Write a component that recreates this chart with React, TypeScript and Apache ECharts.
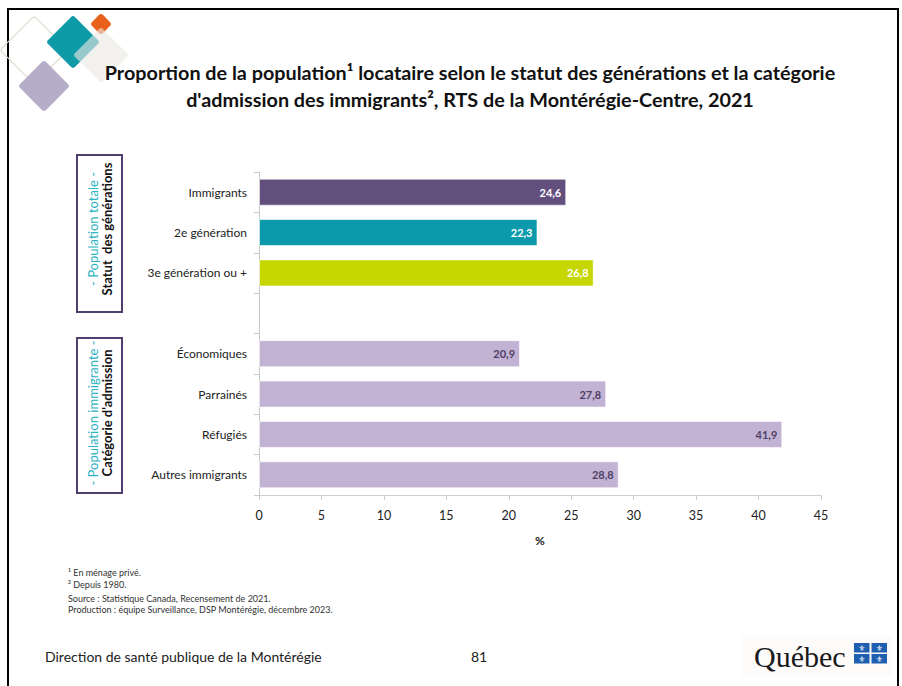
import React, { useEffect, useRef } from "react";
import * as echarts from "echarts";

const categories = [
  "Immigrants",
  "2e génération",
  "3e génération ou +",
  "",
  "Économiques",
  "Parrainés",
  "Réfugiés",
  "Autres immigrants",
];
const values: (number | null)[] = [24.6, 22.3, 26.8, null, 20.9, 27.8, 41.9, 28.8];
const barColors = ["#634f7d", "#0a9aac", "#c5d600", "#ffffff", "#c2b3d4", "#c2b3d4", "#c2b3d4", "#c2b3d4"];
const labelColors = ["#ffffff", "#ffffff", "#ffffff", "#ffffff", "#4e3f66", "#4e3f66", "#4e3f66", "#4e3f66"];
const xTicks = { min: 0, max: 45, interval: 5 };

const titleLines = [
  "Proportion de la population¹ locataire selon le statut des générations et la catégorie",
  "d'admission des immigrants², RTS de la Montérégie-Centre, 2021",
];
const footnotes = [
  "¹ En ménage privé.",
  "² Depuis 1980.",
  "Source : Statistique Canada, Recensement de 2021.",
  "Production : équipe Surveillance, DSP Montérégie, décembre 2023.",
];
const groupBoxes = [
  { teal: "- Population totale -", black: "Statut  des générations" },
  { teal: "- Population immigrante -", black: "Catégorie d'admission" },
];
const footerText = "Direction de santé publique de la Montérégie";
const pageNumber = "81";

const FONT = "Lato, 'Open Sans', sans-serif";

function diamond(cx: number, cy: number, half: number, style: any, z = 1) {
  const s = half * Math.SQRT2;
  return {
    type: "rect",
    x: cx,
    y: cy,
    rotation: Math.PI / 4,
    shape: { x: -s / 2, y: -s / 2, width: s, height: s, r: 3 },
    style,
    z,
  };
}

export default function App() {
  const ref = useRef<HTMLDivElement>(null);
  useEffect(() => {
    if (!ref.current) return;
    const chart = echarts.init(ref.current, undefined, { renderer: "svg" });
    const graphics: any[] = [
      // slide border
      {
        type: "rect",
        shape: { x: 8, y: 9, width: 890, height: 700 },
        style: { fill: "none", stroke: "#000", lineWidth: 2 },
        z: 0,
      },
      // decoration
      diamond(34, 50, 34, { fill: "none", stroke: "#d7dccb", lineWidth: 1.2 }, 1),
      diamond(44, 86, 26, { fill: "#b6aec8" }, 2),
      diamond(73, 42, 27, { fill: "#0e9aa7" }, 3),
      diamond(101, 24, 11, { fill: "#e8601c" }, 4),
      diamond(101, 55, 28, { fill: "rgba(235,232,228,0.62)" }, 5),
      // title
      ...titleLines.map((t, i) => ({
        type: "text",
        x: 470,
        y: 72 + i * 27,
        style: {
          text: t,
          font: `bold 19.8px ${FONT}`,
          fill: "#111",
          textAlign: "center",
          textVerticalAlign: "middle",
        },
        z: 10,
      })),
      // footnotes
      ...footnotes.map((t, i) => ({
        type: "text",
        x: 68,
        y: [572, 584, 598, 609][i],
        style: {
          text: t,
          font: `9px ${FONT}`,
          fill: "#333",
          textAlign: "left",
          textVerticalAlign: "middle",
        },
      })),
      // footer
      {
        type: "text",
        x: 45,
        y: 656,
        style: { text: footerText, font: `14px ${FONT}`, fill: "#222", textVerticalAlign: "middle" },
      },
      {
        type: "text",
        x: 479,
        y: 656,
        style: { text: pageNumber, font: `14px ${FONT}`, fill: "#222", textAlign: "center", textVerticalAlign: "middle" },
      },
      // Quebec logo
      {
        type: "rect",
        shape: { x: 742, y: 636, width: 150, height: 40 },
        style: { fill: "#fcfbfa" },
      },
      {
        type: "text",
        x: 754,
        y: 656,
        style: {
          text: "Québec",
          font: `30px 'Liberation Serif', 'DejaVu Serif', serif`,
          fill: "#1a1a1a",
          textVerticalAlign: "middle",
        },
      },
      ...[0, 1, 2, 3].map((k) => ({
        type: "rect",
        shape: { x: 854 + (k % 2) * 17.5, y: 643 + Math.floor(k / 2) * 11, width: 15.5, height: 9.5 },
        style: { fill: "#1f5fb0" },
      })),
      ...[0, 1, 2, 3].map((k) => ({
        type: "text",
        x: 854 + (k % 2) * 17.5 + 7.75,
        y: 643 + Math.floor(k / 2) * 11 + 5,
        style: {
          text: "⚜",
          font: `8px 'DejaVu Sans', sans-serif`,
          fill: "#ffffff",
          textAlign: "center",
          textVerticalAlign: "middle",
        },
      })),
    ];
    // group boxes
    const boxes = [
      { y: 155, h: 157, cy: 229 },
      { y: 338, h: 155, cy: 413 },
    ];
    boxes.forEach((b, i) => {
      graphics.push({
        type: "rect",
        shape: { x: 77, y: b.y, width: 45, height: b.h },
        style: { fill: "none", stroke: "#4f3f6e", lineWidth: 2 },
      });
      graphics.push({
        type: "text",
        x: 93,
        y: b.cy,
        rotation: Math.PI / 2,
        style: {
          text: groupBoxes[i].teal,
          font: `13px ${FONT}`,
          fill: "#2bb3c3",
          textAlign: "center",
          textVerticalAlign: "middle",
        },
      });
      graphics.push({
        type: "text",
        x: 107,
        y: b.cy,
        rotation: Math.PI / 2,
        style: {
          text: groupBoxes[i].black,
          font: `bold 13px ${FONT}`,
          fill: "#111",
          textAlign: "center",
          textVerticalAlign: "middle",
        },
      });
    });

    chart.setOption({
      animation: false,
      textStyle: { fontFamily: FONT },
      grid: { left: 259, right: 81, top: 172, bottom: 191, containLabel: false },
      xAxis: {
        type: "value",
        min: xTicks.min,
        max: xTicks.max,
        interval: xTicks.interval,
        axisLine: { show: true, lineStyle: { color: "#d0d0d0" } },
        axisTick: { show: true, length: 5, lineStyle: { color: "#d0d0d0" } },
        splitLine: { show: false },
        axisLabel: { color: "#222", fontSize: 12.5, margin: 14 },
        name: "%",
        nameLocation: "middle",
        nameGap: 39,
        nameTextStyle: { color: "#222", fontSize: 12, fontWeight: "bold" },
      },
      yAxis: {
        type: "category",
        data: categories,
        inverse: true,
        axisLine: { show: true, lineStyle: { color: "#c8c8c8" } },
        axisTick: { show: true, length: 5, lineStyle: { color: "#c8c8c8" } },
        axisLabel: { color: "#222", fontSize: 12, margin: 12 },
      },
      series: [
        {
          type: "bar",
          barWidth: "67%",
          data: values.map((v, i) => ({
            value: v,
            itemStyle: { color: barColors[i], borderColor: "rgba(255,255,255,0.6)", borderWidth: 1 },
            label: { color: labelColors[i] },
          })),
          label: {
            show: true,
            position: "insideRight",
            distance: 5,
            fontSize: 11,
            fontWeight: "bold",
            formatter: (p: any) => (p.value == null ? "" : String(p.value).replace(".", ",")),
          },
        },
      ],
      graphic: graphics,
    });
    return () => chart.dispose();
  }, []);
  return (
    <div
      ref={ref}
      style={{ position: "absolute", left: 0, top: 0, width: 902, height: 686, background: "#fff" }}
    />
  );
}
